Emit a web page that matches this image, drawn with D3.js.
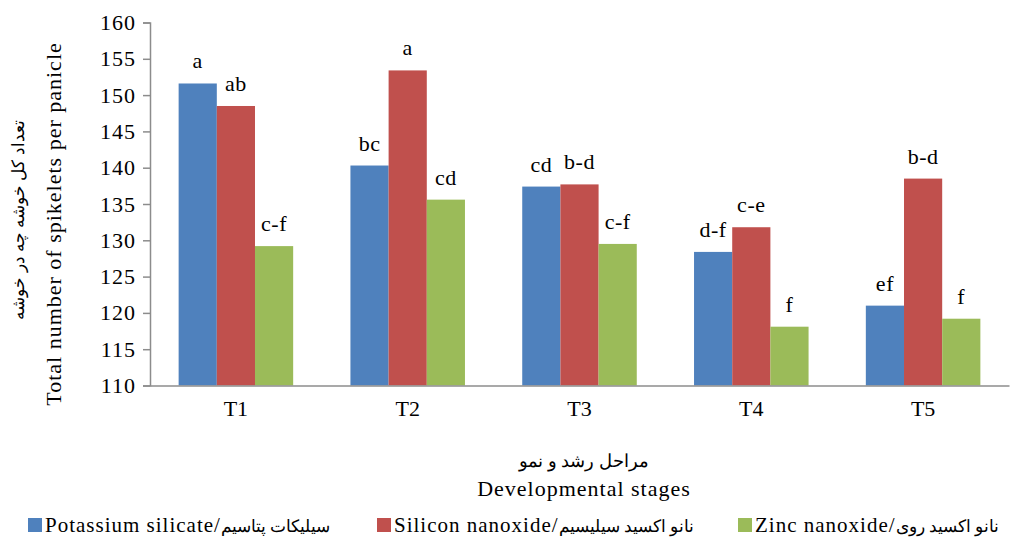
<!DOCTYPE html>
<html>
<head>
<meta charset="utf-8">
<script src="https://cdn.jsdelivr.net/npm/d3@7"></script>
<style>
  html, body { margin: 0; padding: 0; background: #fff; }
  svg { display: block; }
  svg text { font-family: 'Liberation Serif', 'Times New Roman', serif; }
</style>
</head>
<body>
<svg id="chart" width="1017" height="541"></svg>
<script>
// Developmental stages on the x axis
const stages = ["T1", "T2", "T3", "T4", "T5"];

// Series names (English part / Persian part)
const seriesNamesEn = ["Potassium silicate/", "Silicon nanoxide/", "Zinc nanoxide/"];
const seriesNamesFa = ["سیلیکات پتاسیم", "نانو اکسید سیلیسیم", "نانو اکسید روی"];
const seriesColors = ["#4F81BD", "#C0504D", "#9BBB59"];

// Mean spikelets per panicle for each series, by stage
const potassiumSilicate = [151.6, 140.3, 137.4, 128.4, 121.0];
const siliconNanoxide   = [148.5, 153.4, 137.7, 131.8, 138.5];
const zincNanoxide      = [129.2, 135.6, 129.5, 118.1, 119.2];

// Mean-comparison letters shown above each bar
const lettersPotassium = ["a", "bc", "cd", "d-f", "ef"];
const lettersSilicon   = ["ab", "a", "b-d", "c-e", "b-d"];
const lettersZinc      = ["c-f", "cd", "c-f", "f", "f"];

const yTicks = [110, 115, 120, 125, 130, 135, 140, 145, 150, 155, 160];

const seriesValues = [potassiumSilicate, siliconNanoxide, zincNanoxide];
const seriesLetters = [lettersPotassium, lettersSilicon, lettersZinc];

const svg = d3.select("#chart");

const plot = { left: 150, right: 1009, top: 22.5, bottom: 385.5 };

const x0 = d3.scaleBand()
  .domain(stages)
  .range([plot.left, plot.right])
  .paddingInner(0)
  .paddingOuter(0);

// three bars per category with a 150% gap between groups
const x1 = d3.scaleBand()
  .domain(d3.range(seriesValues.length))
  .range([0, x0.bandwidth()])
  .paddingInner(0)
  .paddingOuter(0.75);

const y = d3.scaleLinear()
  .domain([110, 160])
  .range([plot.bottom, plot.top]);

// Y axis
const yAxis = svg.append("g")
  .attr("transform", `translate(${plot.left},0)`)
  .call(d3.axisLeft(y).tickValues(yTicks).tickSize(7).tickPadding(7).tickFormat(d3.format("d")));
yAxis.attr("font-family", null);
yAxis.select(".domain").attr("stroke", "#8c8c8c").attr("stroke-width", 1.5);
yAxis.selectAll(".tick line").attr("stroke", "#8c8c8c").attr("stroke-width", 1.5);
yAxis.selectAll(".tick text")
  .attr("font-size", 22)
  .attr("letter-spacing", 1)
  .attr("fill", "#000");

// Bars
const rows = stages.map((s, i) => ({
  stage: s,
  values: seriesValues.map((vals, k) => ({ k, v: vals[i], letter: seriesLetters[k][i] }))
}));

const groups = svg.append("g")
  .selectAll("g")
  .data(rows)
  .join("g")
  .attr("transform", d => `translate(${x0(d.stage)},0)`);

groups.selectAll("rect")
  .data(d => d.values)
  .join("rect")
  .attr("x", d => x1(d.k))
  .attr("y", d => y(d.v))
  .attr("width", x1.bandwidth())
  .attr("height", d => y(110) - y(d.v))
  .attr("fill", d => seriesColors[d.k]);

groups.selectAll("text.letter")
  .data(d => d.values)
  .join("text")
  .attr("class", "letter")
  .attr("x", d => x1(d.k) + x1.bandwidth() / 2)
  .attr("y", d => y(d.v) - 15)
  .attr("text-anchor", "middle")
  .attr("font-size", 22)
  .attr("letter-spacing", 0.5)
  .text(d => d.letter);

// X axis
const xAxis = svg.append("g")
  .attr("transform", `translate(0,${plot.bottom})`)
  .call(d3.axisBottom(x0).tickSize(0).tickPadding(15));
xAxis.attr("font-family", null);
xAxis.select(".domain").attr("stroke", "#8c8c8c").attr("stroke-width", 1.5);
xAxis.selectAll(".tick text")
  .attr("font-size", 22)
  .attr("fill", "#000");

// Axis titles
svg.append("text")
  .attr("transform", "translate(61,224) rotate(-90)")
  .attr("text-anchor", "middle")
  .attr("font-size", 22)
  .attr("letter-spacing", 1)
  .text("Total number of spikelets per panicle");

svg.append("text")
  .attr("transform", "translate(24,220) rotate(-90)")
  .attr("text-anchor", "middle")
  .attr("font-size", 17)
  .attr("direction", "rtl")
  .text("تعداد کل خوشه چه در خوشه");

svg.append("text")
  .attr("x", 584)
  .attr("y", 467)
  .attr("text-anchor", "middle")
  .attr("font-size", 18)
  .attr("direction", "rtl")
  .text("مراحل رشد و نمو");

svg.append("text")
  .attr("x", 584)
  .attr("y", 496)
  .attr("text-anchor", "middle")
  .attr("font-size", 22)
  .attr("letter-spacing", 1)
  .text("Developmental stages");

// Legend
const legendX = [28, 377, 738];
const legend = svg.append("g")
  .selectAll("g")
  .data(seriesNamesEn)
  .join("g")
  .attr("transform", (d, i) => `translate(${legendX[i]},518)`);

legend.append("rect")
  .attr("width", 14)
  .attr("height", 14)
  .attr("fill", (d, i) => seriesColors[i]);

const legendText = legend.append("text")
  .attr("x", 17)
  .attr("y", 14);

legendText.append("tspan")
  .attr("font-size", 21)
  .attr("letter-spacing", 1)
  .text(d => d);

legendText.append("tspan")
  .attr("font-size", 17)
  .text((d, i) => seriesNamesFa[i]);
</script>
</body>
</html>
